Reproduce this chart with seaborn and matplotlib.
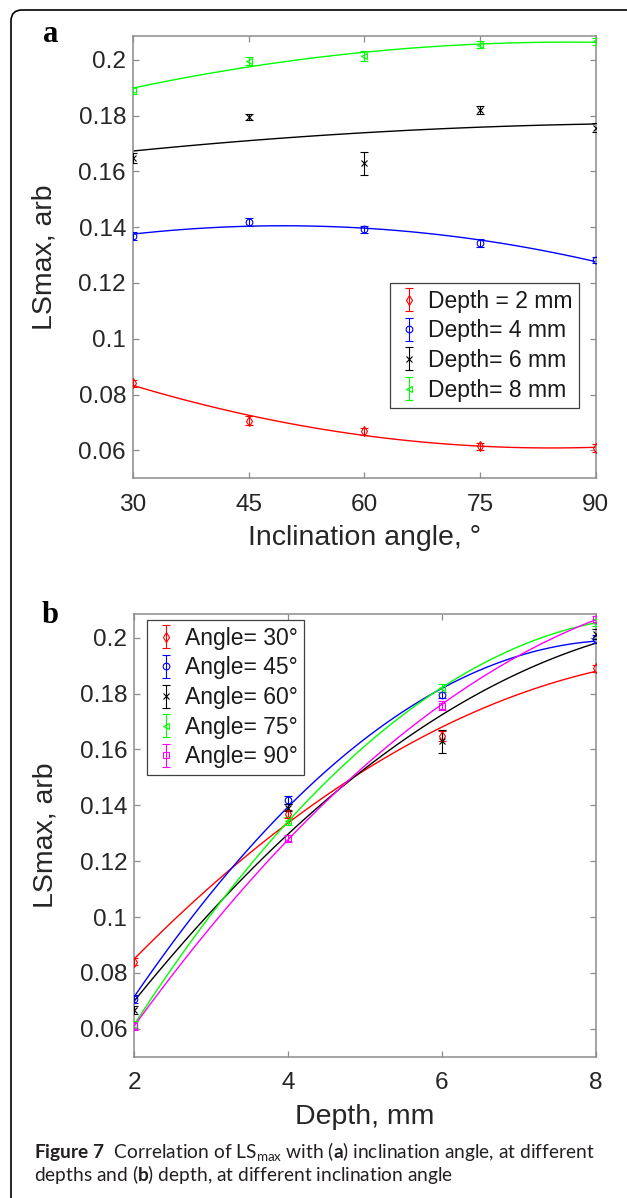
import matplotlib
matplotlib.use("Agg")
import matplotlib.pyplot as plt
import matplotlib.transforms as mtransforms
from matplotlib.patches import FancyBboxPatch
import seaborn as sns

# LSmax measurements: one list per depth, one value per inclination angle
angles = [30, 45, 60, 75, 90]
depths = [2, 4, 6, 8]

ls_depth2 = [0.0840, 0.0707, 0.0668, 0.0615, 0.0609]
ls_depth4 = [0.1368, 0.1419, 0.1392, 0.1344, 0.1282]
ls_depth6 = [0.1649, 0.1794, 0.1629, 0.1820, 0.1757]
ls_depth8 = [0.1890, 0.1996, 0.2012, 0.2054, 0.2066]

err_depth2 = [0.0013, 0.0015, 0.0014, 0.0013, 0.0015]
err_depth4 = [0.0015, 0.0015, 0.0012, 0.0015, 0.0012]
err_depth6 = [0.0018, 0.0011, 0.0041, 0.0015, 0.0017]
err_depth8 = [0.0012, 0.0015, 0.0018, 0.0012, 0.0012]

depth_labels = ["Depth = 2 mm", "Depth= 4 mm", "Depth= 6 mm", "Depth= 8 mm"]
angle_labels = ["Angle= 30°", "Angle= 45°", "Angle= 60°", "Angle= 75°", "Angle= 90°"]

depth_colors = ["#ff0000", "#0000ff", "#000000", "#00ff00"]
depth_markers = ["d", "o", "x", "<"]
angle_colors = ["#ff0000", "#0000ff", "#000000", "#00ff00", "#ff00ff"]
angle_markers = ["d", "o", "x", "<", "s"]

ls_by_depth = [ls_depth2, ls_depth4, ls_depth6, ls_depth8]
err_by_depth = [err_depth2, err_depth4, err_depth6, err_depth8]

sns.set_style("ticks")
plt.rcParams["font.family"] = ["Liberation Sans", "DejaVu Sans"]
plt.rcParams["mathtext.fontset"] = "custom"
plt.rcParams["mathtext.rm"] = "Lato"
plt.rcParams["mathtext.bf"] = "Lato:bold"
plt.rcParams["mathtext.it"] = "Lato:italic"

W, H = 627, 1198
fig = plt.figure(figsize=(W / 100, H / 100), dpi=100)
fig.patch.set_facecolor("white")

ax_a = fig.add_axes([133 / W, 1 - 478.3 / H, 462.7 / W, 442.3 / H])
ax_b = fig.add_axes([134.3 / W, 1 - 1056.7 / H, 461.4 / W, 442.7 / H])

AXIS_GRAY = "#8c8c8c"
TEXT = "#262626"


def errbar(ax, x, y, e, color, marker, label):
    ms = 4.0 if marker == "x" else 4.8
    ax.errorbar(x, y, yerr=e, fmt=marker, linestyle="none", color=color,
                mfc="none", mec=color, ms=ms, mew=0.8, elinewidth=0.8,
                capsize=3.2, capthick=0.8, label=label, zorder=3)


def fit(ax, x, y, color):
    sns.regplot(x=x, y=y, order=2, ci=None, scatter=False, truncate=True,
                color=color, line_kws=dict(lw=1.0), ax=ax)


# (a) LSmax against inclination angle, one curve per depth
for vals, errs, c, m, lab in zip(ls_by_depth, err_by_depth, depth_colors,
                                 depth_markers, depth_labels):
    fit(ax_a, angles, vals, c)
    errbar(ax_a, angles, vals, errs, c, m, lab)

# (b) LSmax against depth, one curve per inclination angle
for i, (c, m, lab) in enumerate(zip(angle_colors, angle_markers, angle_labels)):
    vals = [row[i] for row in ls_by_depth]
    errs = [row[i] for row in err_by_depth]
    fit(ax_b, depths, vals, c)
    errbar(ax_b, depths, vals, errs, c, m, lab)

yticks = [0.06, 0.08, 0.1, 0.12, 0.14, 0.16, 0.18, 0.2]
ytick_labels = ["0.06", "0.08", "0.1", "0.12", "0.14", "0.16", "0.18", "0.2"]

for ax, xt, xl in ((ax_a, angles, "Inclination angle, °"),
                   (ax_b, depths, "Depth, mm")):
    ax.set_xlim(xt[0], xt[-1])
    ax.set_ylim(0.05, 0.2085)
    ax.set_xticks(xt)
    ax.set_xticklabels([str(v) for v in xt])
    ax.set_yticks(yticks)
    ax.set_yticklabels(ytick_labels)
    ax.set_xlabel(xl, fontsize=20.5, color=TEXT, labelpad=7)
    ax.set_ylabel("LSmax, arb", fontsize=20.5, color=TEXT, labelpad=15)
    for sp in ax.spines.values():
        sp.set_visible(True)
        sp.set_color(AXIS_GRAY)
        sp.set_linewidth(1.1)
    ax.tick_params(axis="both", direction="in", top=True, right=True,
                   length=4, width=0.9, color=AXIS_GRAY, labelcolor=TEXT,
                   labelsize=17.6)
    ax.tick_params(axis="x", pad=11)
    ax.tick_params(axis="y", pad=5)
    ax.set_facecolor("white")
    ax.grid(False)

leg_kw = dict(fontsize=16.5, frameon=True, fancybox=False, shadow=False,
              edgecolor="#404040", framealpha=1, borderaxespad=0,
              handlelength=1.05, handletextpad=0.3, labelspacing=0.29,
              borderpad=0.3)
leg_a = ax_a.legend(loc="upper right", bbox_to_anchor=(0.964, 0.442), **leg_kw)
leg_b = ax_b.legend(loc="upper left", bbox_to_anchor=(0.027, 0.9865), **leg_kw)
for leg in (leg_a, leg_b):
    leg.get_frame().set_linewidth(0.9)
    for t in leg.get_texts():
        t.set_color("#1a1a1a")

# panel letters
fig.text(43 / W, 1 - 42 / H, "a", family="Liberation Serif", weight="bold",
         fontsize=22, va="baseline", ha="left", color="black")
fig.text(42 / W, 1 - 623 / H, "b", family="Liberation Serif", weight="bold",
         fontsize=22, va="baseline", ha="left", color="black")

# outer frame with rounded corners (open to the right and bottom)
frame = FancyBboxPatch((11, -30), 800, H - 10 + 30,
                       boxstyle="round,pad=0,rounding_size=11",
                       transform=mtransforms.IdentityTransform(),
                       fill=False, edgecolor="black", lw=1.2)
fig.add_artist(frame)

# caption
cap1 = (r"$\mathbf{Figure\ 7}$  Correlation of LS$_{\mathrm{max}}$ with "
        r"($\mathbf{a}$) inclination angle, at different")
cap2 = r"depths and ($\mathbf{b}$) depth, at different inclination angle"
fig.text(34 / W, 1 - 1158 / H, cap1, family="Lato", fontsize=13.8,
         va="baseline", ha="left", color="#231f20")
fig.text(34 / W, 1 - 1181 / H, cap2, family="Lato", fontsize=13.8,
         va="baseline", ha="left", color="#231f20")

fig.savefig("out.png", dpi=100, facecolor="white")
